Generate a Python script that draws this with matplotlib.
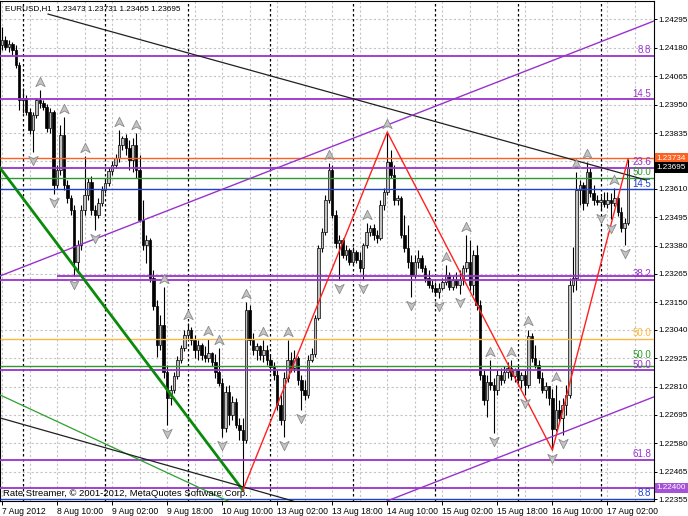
import matplotlib
matplotlib.use('Agg')
import matplotlib.pyplot as plt
from matplotlib.path import Path
from matplotlib.transforms import blended_transform_factory
import numpy as np

plt.rcParams['font.family'] = ['Liberation Sans', 'DejaVu Sans']

# ---------------- data: EURUSD H1, bar 0 = 7 Aug 2012 18:00 ----------------
opens = [
 1.24191,1.24211,1.24183,1.24195,1.24171,1.24110,1.23969,1.23977,1.23920,1.23847,
 1.23908,1.23969,1.23956,1.23940,1.23855,1.23920,1.23625,1.23686,1.23827,1.23625,
 1.23572,1.23524,1.23314,1.23382,1.23524,1.23584,1.23637,1.23524,1.23504,1.23552,
 1.23605,1.23633,1.23681,1.23706,1.23734,1.23787,1.23815,1.23775,1.23726,1.23787,
 1.23686,1.23483,1.23382,1.23402,1.23249,1.23136,1.22978,1.23059,1.22869,1.22763,
 1.22796,1.22852,1.22917,1.22966,1.23018,1.23039,1.22998,1.22958,1.22978,1.22937,
 1.22925,1.22945,1.22909,1.22869,1.22824,1.22642,1.22788,1.22695,1.22747,1.22654,
 1.22634,1.22594,1.23119,1.22998,1.22958,1.22974,1.22937,1.22958,1.22917,1.22889,
 1.22857,1.22735,1.22675,1.22844,1.22917,1.22885,1.22925,1.22836,1.22796,1.22776,
 1.22917,1.22941,1.23087,1.23370,1.23435,1.23564,1.23686,1.23504,1.23390,1.23402,
 1.23342,1.23362,1.23314,1.23354,1.23322,1.23289,1.23382,1.23435,1.23451,1.23423,
 1.23411,1.23544,1.23597,1.23718,1.23665,1.23564,1.23572,1.23423,1.23370,1.23314,
 1.23261,1.23314,1.23330,1.23289,1.23249,1.23220,1.23208,1.23192,1.23208,1.23233,
 1.23261,1.23212,1.23241,1.23220,1.23241,1.23289,1.23314,1.23220,1.23342,1.23140,
 1.22857,1.22755,1.22828,1.22816,1.22796,1.22857,1.22836,1.22869,1.22885,1.22852,
 1.22877,1.22836,1.22857,1.22816,1.23014,1.22925,1.22897,1.22844,1.22796,1.22812,
 1.22763,1.22640,1.22715,1.22683,1.22735,1.22776,1.23220,1.23249,1.23605,1.23625,
 1.23552,1.23677,1.23592,1.23564,1.23556,1.23564,1.23548,1.23564,1.23552,1.23572,
 1.23516,1.23451,1.23473]
highs = [
 1.24264,1.24227,1.24211,1.24203,1.24191,1.24122,1.24017,1.23989,1.23936,1.23920,
 1.23977,1.24009,1.23969,1.23952,1.23936,1.23928,1.23706,1.23867,1.23900,1.23645,
 1.23584,1.23544,1.23402,1.23544,1.23742,1.23653,1.23661,1.23544,1.23572,1.23621,
 1.23645,1.23698,1.23722,1.23750,1.23847,1.23823,1.23831,1.23807,1.23815,1.23835,
 1.23746,1.23564,1.23423,1.23411,1.23281,1.23160,1.23099,1.23212,1.22897,1.22816,
 1.22869,1.22933,1.22978,1.23039,1.23067,1.23051,1.23018,1.22998,1.22986,1.22974,
 1.23002,1.22950,1.22941,1.22966,1.22844,1.22812,1.22816,1.22772,1.22763,1.22683,
 1.22683,1.23152,1.23140,1.23026,1.22986,1.22978,1.22998,1.22978,1.22937,1.22909,
 1.22877,1.22776,1.22869,1.22998,1.22950,1.22958,1.22933,1.22857,1.22836,1.22937,
 1.22966,1.23099,1.23382,1.23451,1.23584,1.23714,1.23706,1.23524,1.23423,1.23411,
 1.23382,1.23370,1.23374,1.23362,1.23354,1.23390,1.23471,1.23463,1.23467,1.23443,
 1.23564,1.23613,1.23839,1.23766,1.23706,1.23584,1.23580,1.23504,1.23463,1.23342,
 1.23342,1.23362,1.23342,1.23301,1.23281,1.23241,1.23233,1.23229,1.23249,1.23301,
 1.23273,1.23257,1.23273,1.23281,1.23301,1.23423,1.23402,1.23362,1.23382,1.23160,
 1.22877,1.22857,1.22917,1.22844,1.22877,1.22885,1.22893,1.22909,1.22917,1.22885,
 1.22897,1.22869,1.22877,1.23039,1.23026,1.22978,1.22917,1.22869,1.22828,1.22812,
 1.22800,1.22816,1.22755,1.22763,1.22816,1.23249,1.23374,1.23677,1.23645,1.23637,
 1.23718,1.23694,1.23625,1.23584,1.23580,1.23597,1.23597,1.23592,1.23613,1.23584,
 1.23536,1.23491,1.23731]
lows = [
 1.24171,1.24171,1.24163,1.24151,1.24098,1.23928,1.23916,1.23908,1.23831,1.23758,
 1.23896,1.23936,1.23928,1.23839,1.23835,1.23590,1.23613,1.23665,1.23605,1.23552,
 1.23504,1.23257,1.23273,1.23362,1.23504,1.23564,1.23504,1.23443,1.23491,1.23540,
 1.23592,1.23621,1.23665,1.23694,1.23718,1.23766,1.23746,1.23686,1.23677,1.23653,
 1.23475,1.23362,1.23309,1.23233,1.23119,1.22929,1.22958,1.22844,1.22654,1.22735,
 1.22784,1.22840,1.22905,1.22954,1.23002,1.22978,1.22925,1.22917,1.22917,1.22909,
 1.22909,1.22893,1.22844,1.22812,1.22606,1.22626,1.22654,1.22675,1.22642,1.22594,
 1.22391,1.22582,1.22978,1.22937,1.22917,1.22917,1.22909,1.22897,1.22869,1.22836,
 1.22715,1.22654,1.22606,1.22828,1.22869,1.22869,1.22816,1.22715,1.22755,1.22763,
 1.22909,1.22929,1.23079,1.23354,1.23423,1.23552,1.23491,1.23370,1.23241,1.23330,
 1.23322,1.23301,1.23301,1.23309,1.23273,1.23241,1.23370,1.23419,1.23402,1.23390,
 1.23402,1.23524,1.23584,1.23653,1.23544,1.23544,1.23411,1.23354,1.23289,1.23172,
 1.23249,1.23289,1.23273,1.23233,1.23208,1.23192,1.23176,1.23168,1.23200,1.23220,
 1.23200,1.23200,1.23208,1.23184,1.23220,1.23273,1.23200,1.23180,1.23119,1.22836,
 1.22735,1.22687,1.22796,1.22622,1.22776,1.22816,1.22824,1.22844,1.22836,1.22828,
 1.22820,1.22804,1.22776,1.22804,1.22909,1.22885,1.22824,1.22784,1.22763,1.22735,
 1.22553,1.22630,1.22666,1.22614,1.22695,1.22763,1.23192,1.23200,1.23544,1.23524,
 1.23540,1.23576,1.23544,1.23544,1.23524,1.23536,1.23532,1.23487,1.23540,1.23499,
 1.23435,1.23382,1.23465]
closes = [
 1.24211,1.24183,1.24195,1.24171,1.24110,1.23969,1.23977,1.23920,1.23847,1.23908,
 1.23969,1.23956,1.23940,1.23855,1.23920,1.23625,1.23686,1.23827,1.23625,1.23572,
 1.23524,1.23314,1.23382,1.23524,1.23584,1.23637,1.23524,1.23504,1.23552,1.23605,
 1.23633,1.23681,1.23706,1.23734,1.23787,1.23815,1.23775,1.23726,1.23787,1.23686,
 1.23483,1.23382,1.23402,1.23249,1.23136,1.22978,1.23059,1.22869,1.22763,1.22796,
 1.22852,1.22917,1.22966,1.23018,1.23039,1.22998,1.22958,1.22978,1.22937,1.22925,
 1.22945,1.22909,1.22869,1.22824,1.22642,1.22788,1.22695,1.22747,1.22654,1.22634,
 1.22594,1.23119,1.22998,1.22958,1.22974,1.22937,1.22958,1.22917,1.22889,1.22857,
 1.22735,1.22675,1.22844,1.22917,1.22885,1.22925,1.22836,1.22796,1.22776,1.22917,
 1.22941,1.23087,1.23370,1.23435,1.23564,1.23686,1.23504,1.23390,1.23402,1.23342,
 1.23362,1.23314,1.23354,1.23322,1.23289,1.23382,1.23435,1.23451,1.23423,1.23411,
 1.23544,1.23597,1.23718,1.23665,1.23564,1.23572,1.23423,1.23370,1.23314,1.23261,
 1.23314,1.23330,1.23289,1.23249,1.23220,1.23208,1.23192,1.23208,1.23233,1.23261,
 1.23212,1.23241,1.23220,1.23241,1.23289,1.23314,1.23220,1.23342,1.23140,1.22857,
 1.22755,1.22828,1.22816,1.22796,1.22857,1.22836,1.22869,1.22885,1.22852,1.22877,
 1.22836,1.22857,1.22816,1.23014,1.22925,1.22897,1.22844,1.22796,1.22812,1.22763,
 1.22640,1.22715,1.22683,1.22735,1.22776,1.23220,1.23249,1.23605,1.23625,1.23552,
 1.23677,1.23592,1.23564,1.23556,1.23564,1.23548,1.23564,1.23552,1.23572,1.23516,
 1.23451,1.23471,1.23695]

# time axis
tick_bars = [0, 16, 32, 48, 64, 80, 96, 112, 128, 144, 160, 176]
tick_labels = ["7 Aug 2012", "8 Aug 10:00", "9 Aug 02:00", "9 Aug 18:00",
               "10 Aug 10:00", "13 Aug 02:00", "13 Aug 18:00", "14 Aug 10:00",
               "15 Aug 02:00", "15 Aug 18:00", "16 Aug 10:00", "17 Aug 02:00"]
day_start_bars = [6, 30, 54, 78, 102, 126, 150, 174]

# price axis
price_ticks = [1.24295, 1.24180, 1.24065, 1.23950, 1.23835, 1.23610, 1.23495,
               1.23380, 1.23265, 1.23150, 1.23040, 1.22925, 1.22810, 1.22695,
               1.22580, 1.22465, 1.22355]
price_tick_labels = ["1.24295", "1.24180", "1.24065", "1.23950", "1.23835",
                     "1.23610", "1.23495", "1.23380", "1.23265", "1.23150",
                     "1.23040", "1.22925", "1.22810", "1.22695", "1.22580",
                     "1.22465", "1.22355"]
grid_prices = price_ticks + [1.23720]

# Bill Williams fractals (bar indices)
fractal_up = [11, 18, 24, 34, 39, 47, 54, 60, 63, 71, 76, 83, 95, 106, 112,
              129, 135, 142, 148, 153, 161, 167, 170, 178]
fractal_down = [9, 15, 21, 27, 48, 64, 82, 87, 98, 105, 119, 127, 133, 143,
                152, 160, 163, 174, 177, 181]

# ZigZag pivots (bar index, use high or low)
zigzag_bars = [70, 112, 160, 182]
zigzag_side = ["low", "high", "low", "high"]

# horizontal levels: price, colour, label, first bar
level_prices = [1.24147, 1.23971, 1.23734, 1.23694, 1.23655, 1.23607, 1.23257,
                1.23241, 1.23002, 1.22891, 1.22877, 1.22513, 1.22400, 1.22354]
level_colors = ["#9932CC", "#9932CC", "#FF5F1F", "#9932CC", "#2E9A2E", "#2040D0",
                "#9932CC", "#9932CC", "#FFB740", "#2E9A2E", "#9932CC", "#9932CC",
                "#9932CC", "#2040D0"]
level_labels = ["8.8", "14.5", "", "23.6", "50.0", "14.5", "", "38.2", "50.0",
                "50.0", "50.0", "61.8", "", "8.8"]
level_start = [None, None, None, None, None, None, 16, None, None, None, None,
               None, None, None]
label_lift = [0.6, 0.6, 0.6, 0.6, 0.6, 0.6, 0.6, 0.6, 0.6, 5.0, 0.0, 0.6, 0.6, 0.6]

# trend lines: (bar0, price0, bar1, price1)
trend_black_top = (13.4, 1.24316, 187.2, 1.23645)
channel_upper = (-0.58, 1.23257, 189.5, 1.24288)
channel_lower = (111.9, 1.22347, 189.5, 1.22768)
green_thick = (-0.58, 1.23694, 70.0, 1.22391)
green_thin = (-0.58, 1.22776, 65.7, 1.22347)
black_thin = (-0.58, 1.22683, 84.6, 1.22347)

# price boxes on the axis
box_prices = [1.23734, 1.23695, 1.22400]
box_texts = ["1.23734", "1.23695", "1.22400"]
box_colors = ["#FF5F1F", "#000000", "#A552D8"]

# ---------------- drawing ----------------
O = np.array(opens); H = np.array(highs); L = np.array(lows); C = np.array(closes)
n = len(O)
x = np.arange(n)

fig = plt.figure(figsize=(6.88, 5.16), dpi=100)
ax = fig.add_axes([0.0, 15 / 516, 654 / 688, 500 / 516])
ax.set_xlim(-0.58, 189.53)
ax.set_ylim(1.22347, 1.24369)

# grid
for p in grid_prices:
    ax.axhline(p, color="#c4c4c4", lw=0.8, ls=(0, (2, 2)), zorder=0)
for b in range(0, 190, 8):
    ax.axvline(b, color="#c4c4c4", lw=0.8, ls=(0, (2, 2)), zorder=0)
for b in day_start_bars:
    ax.axvline(b, color="black", lw=0.9, ls=(0, (2, 2)), zorder=1)

# candles
ax.vlines(x, L, H, color="black", lw=0.8, zorder=2)
bottom = np.minimum(O, C)
height = np.maximum(np.abs(C - O), 0.00002)
bull = C >= O
ax.bar(x[bull], height[bull], bottom=bottom[bull], width=0.72, color="#c0c0c0",
       edgecolor="black", linewidth=0.5, zorder=3)
ax.bar(x[~bull], height[~bull], bottom=bottom[~bull], width=0.72, color="black",
       edgecolor="black", linewidth=0.5, zorder=3)

# horizontal levels
trans = blended_transform_factory(ax.transAxes, ax.transData)
for p, c, lab, s, lift in zip(level_prices, level_colors, level_labels,
                              level_start, label_lift):
    x0 = -0.58 if s is None else s
    lw = 1.3 if c == "#9932CC" else 1.0
    ax.plot([x0, 189.53], [p, p], color=c, lw=lw, zorder=4, solid_capstyle="butt")
    if lab:
        ax.annotate(lab, xy=(1.0, p), xycoords=trans, xytext=(-2, lift),
                    textcoords="offset points", ha="right", va="bottom",
                    fontsize=7, color=c, zorder=7)

# trend lines
def seg(t, **kw):
    ax.plot([t[0], t[2]], [t[1], t[3]], zorder=4, **kw)

seg(trend_black_top, color="#202020", lw=0.9)
seg(channel_upper, color="#9932CC", lw=1.0)
seg(channel_lower, color="#9932CC", lw=1.0)
seg(green_thick, color="#0A8A0A", lw=2.0)
seg(green_thin, color="#2EA02E", lw=0.9)
seg(black_thin, color="#202020", lw=0.9)

# zigzag
zz_y = [L[b] if s == "low" else H[b] for b, s in zip(zigzag_bars, zigzag_side)]
ax.plot(zigzag_bars, zz_y, color="#FF2020", lw=1.0, zorder=5)

# fractals
up_path = Path([(0, 1), (0.9, -0.8), (0, -0.3), (-0.9, -0.8), (0, 1)],
               [Path.MOVETO, Path.LINETO, Path.LINETO, Path.LINETO, Path.CLOSEPOLY])
dn_path = Path([(0, -1), (0.9, 0.8), (0, 0.3), (-0.9, 0.8), (0, -1)],
               [Path.MOVETO, Path.LINETO, Path.LINETO, Path.LINETO, Path.CLOSEPOLY])
fu = np.array(fractal_up); fd = np.array(fractal_down)
ax.plot(fu, H[fu] + 0.00034, ls="none", marker=up_path, ms=7.5, mfc="#c4c4c4",
        mec="#8a8a8a", mew=0.6, zorder=6)
ax.plot(fd, L[fd] - 0.00034, ls="none", marker=dn_path, ms=7.5, mfc="#c4c4c4",
        mec="#8a8a8a", mew=0.6, zorder=6)

# axes styling
for sp in ax.spines.values():
    sp.set_color("black"); sp.set_linewidth(0.8)
ax.yaxis.tick_right()
ax.set_yticks(price_ticks)
ax.set_yticklabels(price_tick_labels)
ax.tick_params(axis="y", length=2, width=0.7, pad=1.2, labelsize=5.9, direction="out")
ax.set_xticks(tick_bars)
ax.set_xticklabels(tick_labels)
for t in ax.get_xticklabels():
    t.set_ha("left")
ax.tick_params(axis="x", length=3, width=0.7, pad=1.5, labelsize=6.2, direction="out")

for p, t, c in zip(box_prices, box_texts, box_colors):
    ax.annotate(t, xy=(1.0, p), xycoords=trans, xytext=(1.8, 0),
                textcoords="offset points", ha="left", va="center",
                fontsize=5.9, color="white", zorder=8, annotation_clip=False,
                bbox=dict(boxstyle="square,pad=0.22", fc=c, ec="none"))

ax.text(5 / 654, 0.984, "EURUSD,H1  1.23473 1.23731 1.23465 1.23695",
        transform=ax.transAxes, fontsize=5.9, va="center", ha="left", zorder=9)
ax.text(3 / 654, 0.016, "Rate Streamer, \u00a9 2001-2012, MetaQuotes Software Corp.",
        transform=ax.transAxes, fontsize=6.8, va="center", ha="left", zorder=9)

fig.savefig("out.png", dpi=100)
